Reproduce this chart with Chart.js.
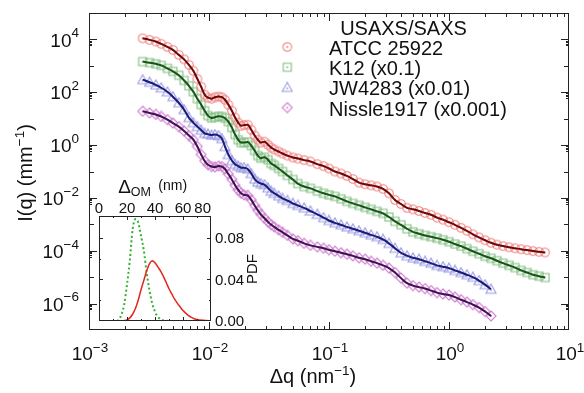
<!DOCTYPE html>
<html>
<head>
<meta charset="utf-8">
<script src="https://cdn.jsdelivr.net/npm/chart.js@4.4.1/dist/chart.umd.min.js"></script>
<style>
  html, body { margin: 0; padding: 0; background: #fff; }
  #wrap { position: relative; width: 584px; height: 393px; }
  #main { position: absolute; left: 0; top: 0; }
  #inset { position: absolute; left: 80px; top: 175px; }
</style>
</head>
<body>
<div id="wrap">
  <canvas id="main" width="584" height="393"></canvas>
  <canvas id="inset" width="190" height="160"></canvas>
</div>
<script>
'use strict';

const FONT = '"Liberation Sans", Arial, sans-serif';

// scattering vector q (nm^-1), shared by all four curves
const q = [0.0028, 0.0032, 0.0036, 0.004, 0.0045, 0.005, 0.0056, 0.0062, 0.0068, 0.0074,
  0.008, 0.0086, 0.0092, 0.0098, 0.0105, 0.0112, 0.012, 0.0128, 0.0136, 0.0145,
  0.0155, 0.0165, 0.0175, 0.0185, 0.0196, 0.021, 0.0225, 0.024, 0.0255, 0.027,
  0.029, 0.031, 0.033, 0.035, 0.038, 0.041, 0.045, 0.05, 0.055, 0.062,
  0.07, 0.08, 0.09, 0.1, 0.112, 0.126, 0.141, 0.158, 0.178, 0.2,
  0.224, 0.251, 0.282, 0.316, 0.355, 0.398, 0.447, 0.501, 0.562, 0.631,
  0.708, 0.794, 0.891, 1.0, 1.12, 1.26, 1.41, 1.58, 1.78, 2.0,
  2.24, 2.51, 2.82, 3.16, 3.55, 3.98, 4.47, 5.01, 5.62, 6.31];

// I(q), mm^-1
const atcc = [1.1e4, 9.6e3, 8.3e3, 6.8e3, 5.2e3, 4.0e3, 2.6e3, 1.76e3, 1.09e3, 650,
  320, 161, 80, 62, 57, 65, 69, 65, 52, 34,
  20, 11, 7.1, 5.4, 5.7, 5.9, 3.8, 2.3, 1.6, 1.24,
  1.35, 1.04, 0.80, 0.68, 0.57, 0.48, 0.40, 0.34, 0.31, 0.27,
  0.24, 0.19, 0.16, 0.13, 0.10, 0.084, 0.068, 0.052, 0.038, 0.033,
  0.030, 0.027, 0.022, 0.015, 0.0084, 0.0059, 0.0042, 0.0037, 0.0032, 0.0027,
  0.0023, 0.0018, 0.0015, 0.0012, 9.6e-4, 7.4e-4, 5.7e-4, 4.2e-4, 3.2e-4, 2.5e-4,
  2.0e-4, 1.7e-4, 1.5e-4, 1.35e-4, 1.24e-4, 1.14e-4, 1.06e-4, 9.7e-5, 9.1e-5, 8.6e-5];

const k12 = [1.45e3, 1.32e3, 1.19e3, 1.04e3, 800, 620, 440, 280, 176, 104,
  57, 34, 20, 13, 10.6, 11.4, 12.4, 11.9, 10.4, 7.7,
  4.6, 2.5, 1.6, 1.24, 1.24, 1.3, 0.96, 0.62, 0.40, 0.32,
  0.35, 0.28, 0.20, 0.17, 0.13, 0.10, 0.071, 0.050, 0.035, 0.027,
  0.023, 0.018, 0.015, 0.013, 0.0114, 0.0092, 0.0074, 0.0062, 0.0052, 0.0044,
  0.0037, 0.0031, 0.0026, 0.0019, 0.0013, 9.6e-4, 6.8e-4, 5.2e-4, 4.4e-4, 3.8e-4,
  3.4e-4, 3.0e-4, 2.6e-4, 2.2e-4, 1.8e-4, 1.5e-4, 1.2e-4, 9.6e-5, 7.7e-5, 6.2e-5,
  5.2e-5, 4.2e-5, 3.4e-5, 2.8e-5, 2.3e-5, 1.8e-5, 1.5e-5, 1.24e-5, 1.09e-5, 9.7e-6];

const jw4283 = [300, 240, 190, 148, 104, 68, 40, 22, 11, 7.1,
  5.0, 3.7, 2.8, 2.6, 2.4, 2.5, 2.3, 1.76, 0.88, 0.44,
  0.26, 0.19, 0.16, 0.14, 0.14, 0.124, 0.084, 0.052, 0.040, 0.035,
  0.032, 0.024, 0.018, 0.015, 0.012, 0.0096, 0.0080, 0.0062, 0.0052, 0.0042,
  0.0032, 0.0024, 0.0018, 0.0014, 0.00114, 9.6e-4, 8.0e-4, 6.8e-4, 5.7e-4, 4.8e-4,
  4.0e-4, 3.4e-4, 2.7e-4, 1.9e-4, 1.24e-4, 8.4e-5, 6.5e-5, 5.4e-5, 4.8e-5, 4.0e-5,
  3.4e-5, 2.8e-5, 2.5e-5, 2.2e-5, 1.8e-5, 1.5e-5, 1.24e-5, 1.0e-5, 7.4e-6, 5.2e-6,
  3.5e-6];

const nissle = [19, 16.4, 14.4, 12.1, 9.2, 6.8, 5.0, 3.4, 2.3, 1.6,
  0.88, 0.44, 0.25, 0.18, 0.154, 0.148, 0.161, 0.154, 0.124, 0.080,
  0.050, 0.030, 0.020, 0.015, 0.013, 0.0124, 0.0084, 0.0052, 0.0034, 0.0024,
  0.0017, 0.00124, 9.6e-4, 8.0e-4, 6.2e-4, 5.0e-4, 3.8e-4, 2.8e-4, 2.4e-4, 1.9e-4,
  1.6e-4, 1.4e-4, 1.24e-4, 1.09e-4, 9.6e-5, 8.4e-5, 7.4e-5, 6.4e-5, 5.4e-5, 4.8e-5,
  4.0e-5, 3.4e-5, 2.8e-5, 2.2e-5, 1.5e-5, 9.2e-6, 5.9e-6, 4.8e-6, 4.2e-6, 3.7e-6,
  3.1e-6, 2.6e-6, 2.3e-6, 2.1e-6, 1.76e-6, 1.4e-6, 1.14e-6, 9.2e-7, 7.1e-7, 5.0e-7,
  3.4e-7];

// decade exponents that get a label
const xTickExp = [-3, -2, -1, 0, 1];
const yTickExp = [4, 2, 0, -2, -4, -6];

// inset: outer membrane thickness distribution
const dOM = [0, 10, 12, 14, 16, 18, 20, 22, 24, 26, 28, 30, 32, 34, 36, 38, 40, 42, 44, 46,
  48, 50, 52, 54, 56, 58, 60, 62, 64, 66, 68, 70, 72, 76, 80];
const pdfRed = [0, 0, 0, 0, 0, 0.0003, 0.001, 0.003, 0.0065, 0.012, 0.02, 0.03, 0.039, 0.048, 0.055, 0.058, 0.056, 0.052, 0.048, 0.043,
  0.037, 0.031, 0.026, 0.021, 0.017, 0.0135, 0.010, 0.0075, 0.0052, 0.0035, 0.0022, 0.0014, 0.001, 0.0004, 0.0001];
const pdfGreen = [0, 0, 0, 0.001, 0.006, 0.016, 0.035, 0.058, 0.088, 0.098, 0.095, 0.082, 0.068, 0.047, 0.030, 0.017, 0.009, 0.004, 0.0018, 0.0006,
  0.0002, 0, 0, 0, 0, 0, 0, 0, 0, 0, 0, 0, 0, 0, 0];
const insetXTicks = [0, 20, 40, 60, 80];
const insetYTicks = [0, 0.04, 0.08];

function marker(shape, color) {
  const c = document.createElement('canvas');
  c.width = 12; c.height = 12;
  const g = c.getContext('2d');
  g.strokeStyle = color; g.fillStyle = color; g.lineWidth = 1.1;
  g.beginPath();
  if (shape === 'circle') g.arc(6, 6, 4.3, 0, Math.PI * 2);
  else if (shape === 'square') g.rect(2, 2, 8, 8);
  else if (shape === 'triangle') { g.moveTo(6, 1); g.lineTo(11, 10); g.lineTo(1, 10); g.closePath(); }
  else { g.moveTo(6, 1); g.lineTo(11, 6); g.lineTo(6, 11); g.lineTo(1, 6); g.closePath(); }
  g.stroke();
  g.beginPath();
  g.arc(6, shape === 'triangle' ? 7 : 6, 0.9, 0, Math.PI * 2);
  g.fill();
  return c;
}

const series = [
  { label: 'ATCC 25922', y: atcc, shape: 'circle', light: '#ef8080', dark: '#6e0808' },
  { label: 'K12 (x0.1)', y: k12, shape: 'square', light: '#80bd80', dark: '#175517' },
  { label: 'JW4283 (x0.01)', y: jw4283, shape: 'triangle', light: '#9c9ce2', dark: '#1a1a78' },
  { label: 'Nissle1917 (x0.001)', y: nissle, shape: 'diamond', light: '#d080d0', dark: '#3e1250' }
];
series.forEach(s => { s.img = marker(s.shape, s.light); });

const pts = s => s.y.map((v, i) => ({ x: q[i], y: v }));

// fits first so they are painted over the markers
const datasets = series.map(s => ({
  data: pts(s), showLine: true, borderColor: s.dark, borderWidth: 2,
  pointRadius: 0, cubicInterpolationMode: 'monotone'
})).concat(series.map(s => ({
  data: pts(s), showLine: false, pointStyle: s.img, pointRadius: 4
})));

function runs(ctx, parts, x, y, align) {
  let w = 0;
  parts.forEach(p => { ctx.font = p.s + 'px ' + FONT; p.w = ctx.measureText(p.t).width; w += p.w; });
  let cx = align === 'right' ? x - w : align === 'left' ? x : x - w / 2;
  ctx.textAlign = 'left';
  ctx.textBaseline = 'alphabetic';
  parts.forEach(p => {
    ctx.font = p.s + 'px ' + FONT;
    ctx.fillText(p.t, cx, y + (p.dy || 0));
    cx += p.w;
  });
}

function pow10(e) {
  return e < 0 ? '\u2212' + (-e) : String(e);
}

const mainDecor = {
  id: 'mainDecor',
  afterDraw(chart) {
    const ctx = chart.ctx, a = chart.chartArea;
    const xs = chart.scales.x, ys = chart.scales.y;
    ctx.save();
    ctx.strokeStyle = '#222';
    ctx.lineWidth = 1;
    ctx.strokeRect(a.left + 0.5, a.top + 0.5, a.right - a.left - 1, a.bottom - a.top - 1);

    ctx.beginPath();
    for (let e = -3; e <= 0; e++) {
      for (let k = 1; k <= 9; k++) {
        const px = Math.round(xs.getPixelForValue(k * Math.pow(10, e))) + 0.5;
        const len = k === 1 ? 8 : 4;
        ctx.moveTo(px, a.bottom); ctx.lineTo(px, a.bottom - len);
        ctx.moveTo(px, a.top); ctx.lineTo(px, a.top + len);
      }
    }
    for (let e = -6; e <= 4; e++) {
      const py = Math.round(ys.getPixelForValue(Math.pow(10, e))) + 0.5;
      const len = e % 2 === 0 ? 8 : 5;
      ctx.moveTo(a.left, py); ctx.lineTo(a.left + len, py);
      ctx.moveTo(a.right, py); ctx.lineTo(a.right - len, py);
      if (e % 2 === 0) {
        for (let k = 6; k <= 9; k++) {
          const my = Math.round(ys.getPixelForValue(k * Math.pow(10, e - 1))) + 0.5;
          ctx.moveTo(a.left, my); ctx.lineTo(a.left + 3, my);
          ctx.moveTo(a.right, my); ctx.lineTo(a.right - 3, my);
        }
      }
    }
    ctx.stroke();

    ctx.fillStyle = '#111';
    xTickExp.forEach(e => {
      const px = xs.getPixelForValue(Math.pow(10, e));
      runs(ctx, [{ t: '10', s: 19 }, { t: pow10(e), s: 13.5, dy: -8 }], px + 1, 360, 'center');
    });
    yTickExp.forEach(e => {
      const py = ys.getPixelForValue(Math.pow(10, e));
      runs(ctx, [{ t: '10', s: 19 }, { t: pow10(e), s: 13.5, dy: -9.4 }], 79, py + 7.2, 'right');
    });

    runs(ctx, [{ t: '\u0394q (nm', s: 20 }, { t: '\u22121', s: 13.5, dy: -8 }, { t: ')', s: 20 }], 313, 383, 'center');
    ctx.save();
    ctx.translate(32, 173);
    ctx.rotate(-Math.PI / 2);
    runs(ctx, [{ t: 'I(q) (mm', s: 20 }, { t: '\u22121', s: 13.5, dy: -8 }, { t: ')', s: 20 }], 0, 0, 'center');
    ctx.restore();

    // legend
    ctx.font = '20px ' + FONT;
    ctx.textAlign = 'center';
    ctx.fillText('USAXS/SAXS', 403.5, 35);
    ctx.textAlign = 'left';
    series.forEach((s, i) => {
      const by = 55 + 20.2 * i;
      ctx.drawImage(s.img, 287.3 - 6, by - 8 - 6);
      ctx.fillText(s.label, 329, by);
    });
    ctx.restore();
  }
};

new Chart(document.getElementById('main'), {
  type: 'scatter',
  data: { datasets: datasets },
  options: {
    responsive: false,
    animation: false,
    devicePixelRatio: 1,
    layout: { padding: { top: 13, right: 15, left: 0, bottom: 0 } },
    plugins: { legend: { display: false }, tooltip: { enabled: false } },
    scales: {
      x: {
        type: 'logarithmic', min: 1e-3, max: 10,
        ticks: { display: false }, grid: { display: false }, border: { display: false },
        afterFit: s => { s.height = 63; }
      },
      y: {
        type: 'logarithmic', min: 1e-7, max: 1e5,
        ticks: { display: false }, grid: { display: false }, border: { display: false },
        afterFit: s => { s.width = 89; }
      }
    }
  },
  plugins: [mainDecor]
});

const insetDecor = {
  id: 'insetDecor',
  afterDraw(chart) {
    const ctx = chart.ctx, a = chart.chartArea;
    const xs = chart.scales.x, ys = chart.scales.y;
    ctx.save();
    ctx.strokeStyle = '#222';
    ctx.lineWidth = 1;
    ctx.strokeRect(a.left + 0.5, a.top + 0.5, a.right - a.left - 1, a.bottom - a.top - 1);
    ctx.beginPath();
    for (let v = 10; v < 80; v += 10) {
      const px = Math.round(xs.getPixelForValue(v)) + 0.5;
      const len = v % 20 === 0 ? 4 : 2;
      ctx.moveTo(px, a.top); ctx.lineTo(px, a.top + len);
      ctx.moveTo(px, a.bottom); ctx.lineTo(px, a.bottom - len);
    }
    [0.02, 0.04, 0.06, 0.08].forEach(v => {
      const py = Math.round(ys.getPixelForValue(v)) + 0.5;
      const len = Math.round(v * 100) % 4 === 0 ? 4 : 2;
      ctx.moveTo(a.left, py); ctx.lineTo(a.left + len, py);
      ctx.moveTo(a.right, py); ctx.lineTo(a.right - len, py);
    });
    ctx.stroke();

    ctx.fillStyle = '#111';
    ctx.font = '15px ' + FONT;
    ctx.textBaseline = 'alphabetic';
    insetXTicks.forEach((v, i) => {
      const last = i === insetXTicks.length - 1;
      ctx.textAlign = last ? 'right' : 'center';
      ctx.fillText(String(v), last ? a.right : xs.getPixelForValue(v), 37.5);
    });
    ctx.textAlign = 'left';
    insetYTicks.forEach(v => {
      ctx.fillText(v.toFixed(2), 135, ys.getPixelForValue(v) + 5.4);
    });
    ctx.save();
    ctx.translate(176.5, 94);
    ctx.rotate(-Math.PI / 2);
    ctx.textAlign = 'center';
    ctx.fillText('PDF', 0, 0);
    ctx.restore();

    ctx.textAlign = 'left';
    ctx.font = '19px ' + FONT;
    ctx.fillText('\u0394', 38.3, 18);
    ctx.font = '12.5px ' + FONT;
    ctx.fillText('OM', 50.7, 20.5);
    ctx.font = '14px ' + FONT;
    ctx.fillText('(nm)', 78.3, 15);
    ctx.restore();
  }
};

new Chart(document.getElementById('inset'), {
  type: 'scatter',
  data: {
    datasets: [
      {
        data: dOM.map((v, i) => ({ x: v, y: pdfRed[i] })),
        showLine: true, borderColor: '#e3261c', borderWidth: 1.5,
        pointRadius: 0, cubicInterpolationMode: 'monotone'
      },
      {
        data: dOM.map((v, i) => ({ x: v, y: pdfGreen[i] })),
        showLine: true, borderColor: '#33b033', borderWidth: 2, borderDash: [2, 2.5],
        pointRadius: 0, cubicInterpolationMode: 'monotone'
      }
    ]
  },
  options: {
    responsive: false,
    animation: false,
    devicePixelRatio: 1,
    layout: { padding: { left: 19, bottom: 14, top: 0, right: 0 } },
    plugins: { legend: { display: false }, tooltip: { enabled: false } },
    scales: {
      x: {
        type: 'linear', position: 'top', min: 0, max: 80,
        ticks: { display: false }, grid: { display: false }, border: { display: false },
        afterFit: s => { s.height = 41; }
      },
      y: {
        type: 'linear', position: 'right', min: 0, max: 0.101,
        ticks: { display: false }, grid: { display: false }, border: { display: false },
        afterFit: s => { s.width = 59; }
      }
    }
  },
  plugins: [insetDecor]
});
</script>
</body>
</html>
